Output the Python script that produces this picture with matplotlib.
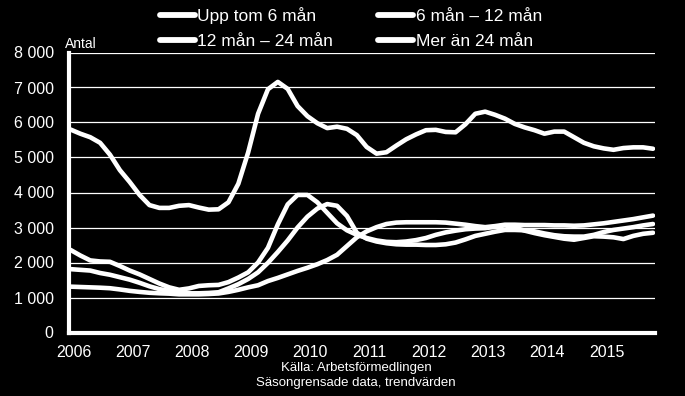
#!/usr/bin/env python3
"""Inskrivna arbetslösa efter tid utan arbete, 2006-2015 (svart bakgrund)."""

import matplotlib
matplotlib.use("Agg")
import matplotlib.pyplot as plt
from matplotlib.ticker import FuncFormatter

# ---------------------------------------------------------------------------
# Data (trendvärden, varannan månad från jan 2006)
# ---------------------------------------------------------------------------
months = list(range(0, 119, 2))

upp_6 = [5800, 5680, 5580, 5420, 5080, 4640, 4300, 3930, 3640, 3560,
         3560, 3620, 3640, 3570, 3510, 3520, 3720, 4250, 5150, 6250,
         6950, 7160, 6960, 6470, 6180, 5980, 5840, 5880, 5820, 5640,
         5300, 5110, 5150, 5340, 5520, 5660, 5780, 5790, 5730, 5720,
         5950, 6250, 6310, 6220, 6110, 5960, 5860, 5780, 5680, 5740,
         5740, 5580, 5420, 5320, 5260, 5220, 5270, 5290, 5290, 5250]

man_6_12 = [2360, 2200, 2060, 2030, 2020, 1900, 1770, 1660, 1530, 1400,
            1290, 1220, 1260, 1330, 1350, 1360, 1440, 1570, 1720, 2000,
            2420, 3090, 3660, 3930, 3930, 3720, 3420, 3120, 2920, 2790,
            2700, 2630, 2590, 2580, 2600, 2640, 2700, 2790, 2860, 2910,
            2950, 2970, 2980, 3020, 3060, 3000, 2910, 2840, 2780, 2730,
            2680, 2650, 2700, 2750, 2740, 2720, 2670, 2760, 2820, 2850]

man_12_24 = [1810, 1790, 1770, 1700, 1650, 1580, 1510, 1420, 1320, 1240,
             1190, 1140, 1120, 1120, 1130, 1150, 1260, 1380, 1530, 1720,
             1990, 2300, 2630, 3000, 3310, 3540, 3670, 3620, 3330, 2850,
             2680, 2600, 2550, 2520, 2510, 2510, 2500, 2500, 2520, 2570,
             2660, 2760, 2820, 2880, 2930, 2930, 2920, 2890, 2830, 2780,
             2750, 2740, 2740, 2790, 2870, 2930, 2970, 3010, 3060, 3100]

over_24 = [1310, 1300, 1290, 1280, 1265, 1230, 1190, 1160, 1135, 1120,
           1110, 1090, 1090, 1090, 1100, 1115, 1160, 1220, 1290, 1350,
           1470, 1560, 1660, 1760, 1850, 1950, 2070, 2220, 2470, 2720,
           2890, 3010, 3100, 3140, 3150, 3150, 3150, 3150, 3140, 3110,
           3080, 3040, 3010, 3040, 3080, 3080, 3070, 3070, 3070, 3060,
           3060, 3050, 3060, 3090, 3120, 3160, 3200, 3240, 3290, 3340]

series_labels = ["Upp tom 6 mån", "6 mån – 12 mån", "12 mån – 24 mån", "Mer än 24 mån"]
year_labels = [str(y) for y in range(2006, 2016)]
y_ticks = list(range(0, 8001, 1000))

# ---------------------------------------------------------------------------
# Style
# ---------------------------------------------------------------------------
BG = "#000000"
FG = "#ffffff"
plt.rcParams["font.family"] = ["Liberation Sans", "DejaVu Sans"]


def main():
    fig = plt.figure(figsize=(6.85, 3.96), dpi=100)
    fig.patch.set_facecolor(BG)
    ax = fig.add_axes([69 / 685, 1 - 332.5 / 396, 586 / 685, 280 / 396])
    ax.set_facecolor(BG)

    handles = []
    for values, label in zip([upp_6, man_6_12, man_12_24, over_24], series_labels):
        (ln,) = ax.plot(months, values, color=FG, lw=3.3, label=label,
                        solid_capstyle="round", solid_joinstyle="round", zorder=3)
        handles.append(ln)

    ax.set_xlim(-0.3, 118.4)
    ax.set_ylim(0, 8000)
    ax.set_yticks(y_ticks)
    ax.yaxis.set_major_formatter(FuncFormatter(lambda v, _: f"{int(v):,}".replace(",", " ")))
    ax.set_xticks([12 * i + 0.6 for i in range(len(year_labels))])
    ax.set_xticklabels(year_labels)

    ax.grid(axis="y", color=FG, lw=0.9, zorder=1)
    ax.set_axisbelow(True)
    for side in ("top", "right"):
        ax.spines[side].set_visible(False)
    for side in ("left", "bottom"):
        ax.spines[side].set_color(FG)
        ax.spines[side].set_linewidth(3)
        ax.spines[side].set_zorder(4)
    ax.tick_params(axis="both", length=0, colors=FG, labelsize=11.5)
    ax.tick_params(axis="y", pad=11)
    ax.tick_params(axis="x", pad=9)

    # Unit label above the axis
    fig.text(65 / 685, 1 - 48 / 396, "Antal", color=FG, fontsize=10,
             ha="left", va="baseline")

    # Legend: two rows, two columns
    order = [0, 2, 1, 3]
    fig.legend([handles[i] for i in order], [series_labels[i] for i in order],
               loc="upper left", bbox_to_anchor=(160 / 685, 1 - 7 / 396),
               ncol=2, frameon=False, fontsize=12.5, labelcolor=FG,
               handlelength=2.0, handletextpad=0.15, columnspacing=2.6,
               labelspacing=0.55, borderaxespad=0, borderpad=0)
    for lh in fig.legends[0].get_lines():
        lh.set_linewidth(4.2)

    # Source note
    fig.text(356 / 685, 1 - 368 / 396, "Källa: Arbetsförmedlingen", color=FG,
             fontsize=9.5, ha="center", va="center")
    fig.text(356 / 685, 1 - 383 / 396, "Säsongrensade data, trendvärden", color=FG,
             fontsize=9.5, ha="center", va="center")

    fig.savefig("out.png", dpi=100, facecolor=fig.get_facecolor())
    plt.close(fig)


if __name__ == "__main__":
    main()
